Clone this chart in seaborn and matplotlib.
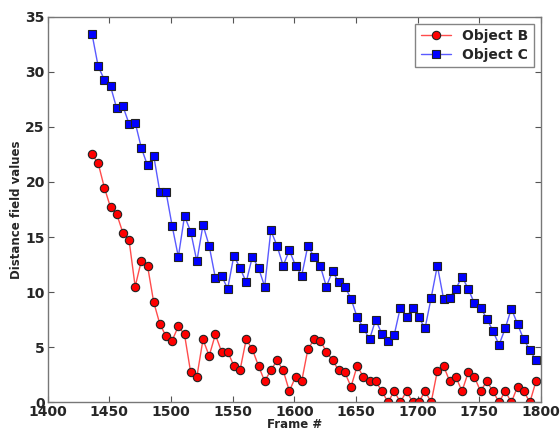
import numpy as np
import pandas as pd
import matplotlib
matplotlib.use("Agg")
import matplotlib.pyplot as plt
import seaborn as sns

frames = list(range(1436, 1797, 5))

object_b = [22.5, 21.7, 19.5, 17.7, 17.1, 15.4, 14.75, 10.5, 12.85, 12.4,
            9.1, 7.1, 6.0, 5.6, 6.9, 6.15, 2.7, 2.3, 5.7, 4.2,
            6.15, 4.6, 4.6, 3.3, 2.9, 5.7, 4.8, 3.3, 1.9, 2.9,
            3.8, 2.9, 1.0, 2.3, 1.9, 4.8, 5.7, 5.6, 4.6, 3.8,
            2.9, 2.7, 1.4, 3.3, 2.3, 1.9, 1.9, 1.0, 0.0, 1.0,
            0.0, 1.0, 0.0, 0.0, 1.0, 0.0, 2.85, 3.3, 1.9, 2.3,
            1.0, 2.7, 2.3, 1.0, 1.9, 1.0, 0.0, 1.0, 0.0, 1.4,
            1.0, 0.0, 1.9]

object_c = [33.45, 30.5, 29.3, 28.7, 26.7, 26.9, 25.3, 25.4, 23.1, 21.5,
            22.4, 19.1, 19.1, 16.0, 13.2, 16.9, 15.5, 12.8, 16.1, 14.2,
            11.3, 11.5, 10.3, 13.3, 12.2, 10.9, 13.2, 12.2, 10.5, 15.6,
            14.2, 12.4, 13.8, 12.4, 11.5, 14.2, 13.2, 12.4, 10.5, 11.9,
            10.9, 10.5, 9.4, 7.7, 6.75, 5.7, 7.5, 6.2, 5.6, 6.1,
            8.6, 7.7, 8.6, 7.7, 6.7, 9.5, 12.4, 9.4, 9.5, 10.3,
            11.4, 10.3, 9.0, 8.6, 7.6, 6.5, 5.2, 6.7, 8.5, 7.1,
            5.7, 4.75, 3.8]

x_ticks = [1400, 1450, 1500, 1550, 1600, 1650, 1700, 1750, 1800]
y_ticks = [0, 5, 10, 15, 20, 25, 30, 35]

sns.set_theme(style="white")
plt.rcParams['font.family'] = ['DejaVu Sans']

df_b = pd.DataFrame({"frame": frames, "value": object_b})
df_c = pd.DataFrame({"frame": frames, "value": object_c})

fig = plt.figure(figsize=(5.6, 4.32), dpi=100)
ax = fig.add_axes([0.085, 0.069, 0.881, 0.892])

sns.lineplot(data=df_b, x="frame", y="value", ax=ax, color="#ff4c4c", lw=1.0,
             marker="o", markersize=6, markerfacecolor="red",
             markeredgecolor="#222222", markeredgewidth=0.8, label="Object B")
sns.lineplot(data=df_c, x="frame", y="value", ax=ax, color="#5a5aff", lw=1.0,
             marker="s", markersize=5.5, markerfacecolor="blue",
             markeredgecolor="#222222", markeredgewidth=0.8, label="Object C")

ax.set_xlim(1400, 1800)
ax.set_ylim(0, 35)
ax.set_xticks(x_ticks)
ax.set_yticks(y_ticks)
ax.set_xticklabels([str(t) for t in x_ticks], fontsize=10, fontweight="bold")
ax.set_yticklabels([str(t) for t in y_ticks], fontsize=10, fontweight="bold")
ax.tick_params(direction="in", length=4, width=0.8, color="#555555",
               top=True, right=True, bottom=True, left=True, pad=2)
for s in ax.spines.values():
    s.set_color("#777777")
    s.set_linewidth(1.0)
ax.set_xlabel("Frame #", fontsize=8.5, fontweight="bold", labelpad=-1)
ax.set_ylabel("Distance field values", fontsize=8.5, fontweight="bold", labelpad=2)

leg = ax.legend(loc="upper right", fontsize=10, frameon=True, fancybox=False,
                handlelength=2.2, borderpad=0.4, labelspacing=0.3,
                prop={"weight": "bold", "size": 10})
leg.get_frame().set_edgecolor("#666666")
leg.get_frame().set_linewidth(1.0)

fig.savefig("out.png", dpi=100)
